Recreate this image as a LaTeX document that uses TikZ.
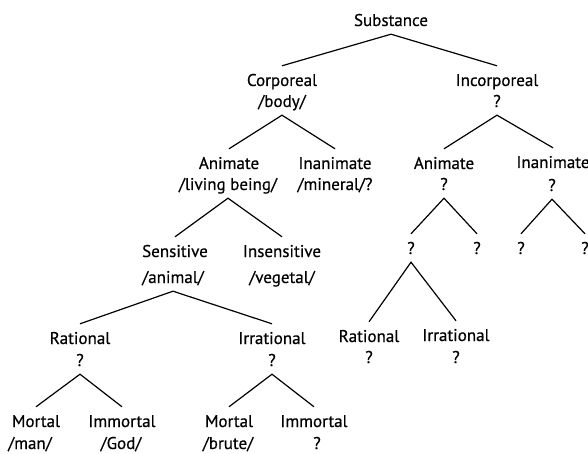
\documentclass[tikz,border=0pt]{standalone}
\usepackage{fontspec}
\setmainfont{PT Sans}[FakeBold=0.5]
\begin{document}
\begin{tikzpicture}[x=1pt,y=-1pt,
  lbl/.style={anchor=base,inner xsep=0pt,inner ysep=8pt,text height=12pt,text depth=0pt,
              font=\fontsize{17}{20}\selectfont},
  edge/.style={line width=1.2pt,line join=miter}]
\useasboundingbox (0,0) rectangle (588,454);
\node[lbl] (subst) at (391,26) {Substance};
\node[lbl] (corp) at (282,86) {Corporeal};
\node[lbl] (corpb) at (282,107) {/body/};
\node[lbl] (incorp) at (497,86) {Incorporeal};
\node[lbl] (incorpb) at (497,107) {?};
\node[lbl] (anim) at (229,169) {Animate};
\node[lbl] (animb) at (228,190) {/living being/};
\node[lbl] (inan) at (335,169) {Inanimate};
\node[lbl] (inanb) at (335,190) {/mineral/?};
\node[lbl] (animr) at (444,169) {Animate};
\node[lbl] (animrb) at (444,190) {?};
\node[lbl] (inanr) at (553,168) {Inanimate};
\node[lbl] (inanrb) at (552,191) {?};
\node[lbl] (qa) at (411,254) {?};
\node[lbl] (qb) at (477,254) {?};
\node[lbl] (qc) at (521,254) {?};
\node[lbl] (qd) at (585,254) {?};
\node[lbl] (sens) at (175,257) {Sensitive};
\node[lbl] (sensb) at (173,283) {/animal/};
\node[lbl] (insens) at (282,257) {Insensitive};
\node[lbl] (insensb) at (282,283) {/vegetal/};
\node[lbl] (rat) at (80,344) {Rational};
\node[lbl] (ratb) at (80,366) {?};
\node[lbl] (irr) at (272,344) {Irrational};
\node[lbl] (irrb) at (272,366) {?};
\node[lbl] (ratr) at (369,342) {Rational};
\node[lbl] (ratrb) at (369,363) {?};
\node[lbl] (irrr) at (456,341) {Irrational};
\node[lbl] (irrrb) at (456,363) {?};
\node[lbl] (mort) at (36,427) {Mortal};
\node[lbl] (mortb) at (30,449) {/man/};
\node[lbl] (imm) at (122,427) {Immortal};
\node[lbl] (immb) at (121,449) {/God/};
\node[lbl] (mortt) at (229,427) {Mortal};
\node[lbl] (morttb) at (228,449) {/brute/};
\node[lbl] (immt) at (314,427) {Immortal};
\node[lbl] (immtb) at (317,449) {?};
\draw[edge] (corp.north) -- (subst.south) -- (incorp.north);
\draw[edge] (anim.north) -- (corpb.south) -- (inan.north);
\draw[edge] (animr.north) -- (incorpb.south) -- (inanr.north);
\draw[edge] (sens.north) -- (animb.south) -- (insens.north);
\draw[edge] (qa.north) -- (animrb.south) -- (qb.north);
\draw[edge] (qc.north) -- (inanrb.south) -- (qd.north);
\draw[edge] (rat.north) -- (sensb.south) -- (irr.north);
\draw[edge] (ratr.north) -- (qa.south) -- (irrr.north);
\draw[edge] (mort.north) -- (ratb.south) -- (imm.north);
\draw[edge] (mortt.north) -- (irrb.south) -- (immt.north);
\end{tikzpicture}
\end{document}
